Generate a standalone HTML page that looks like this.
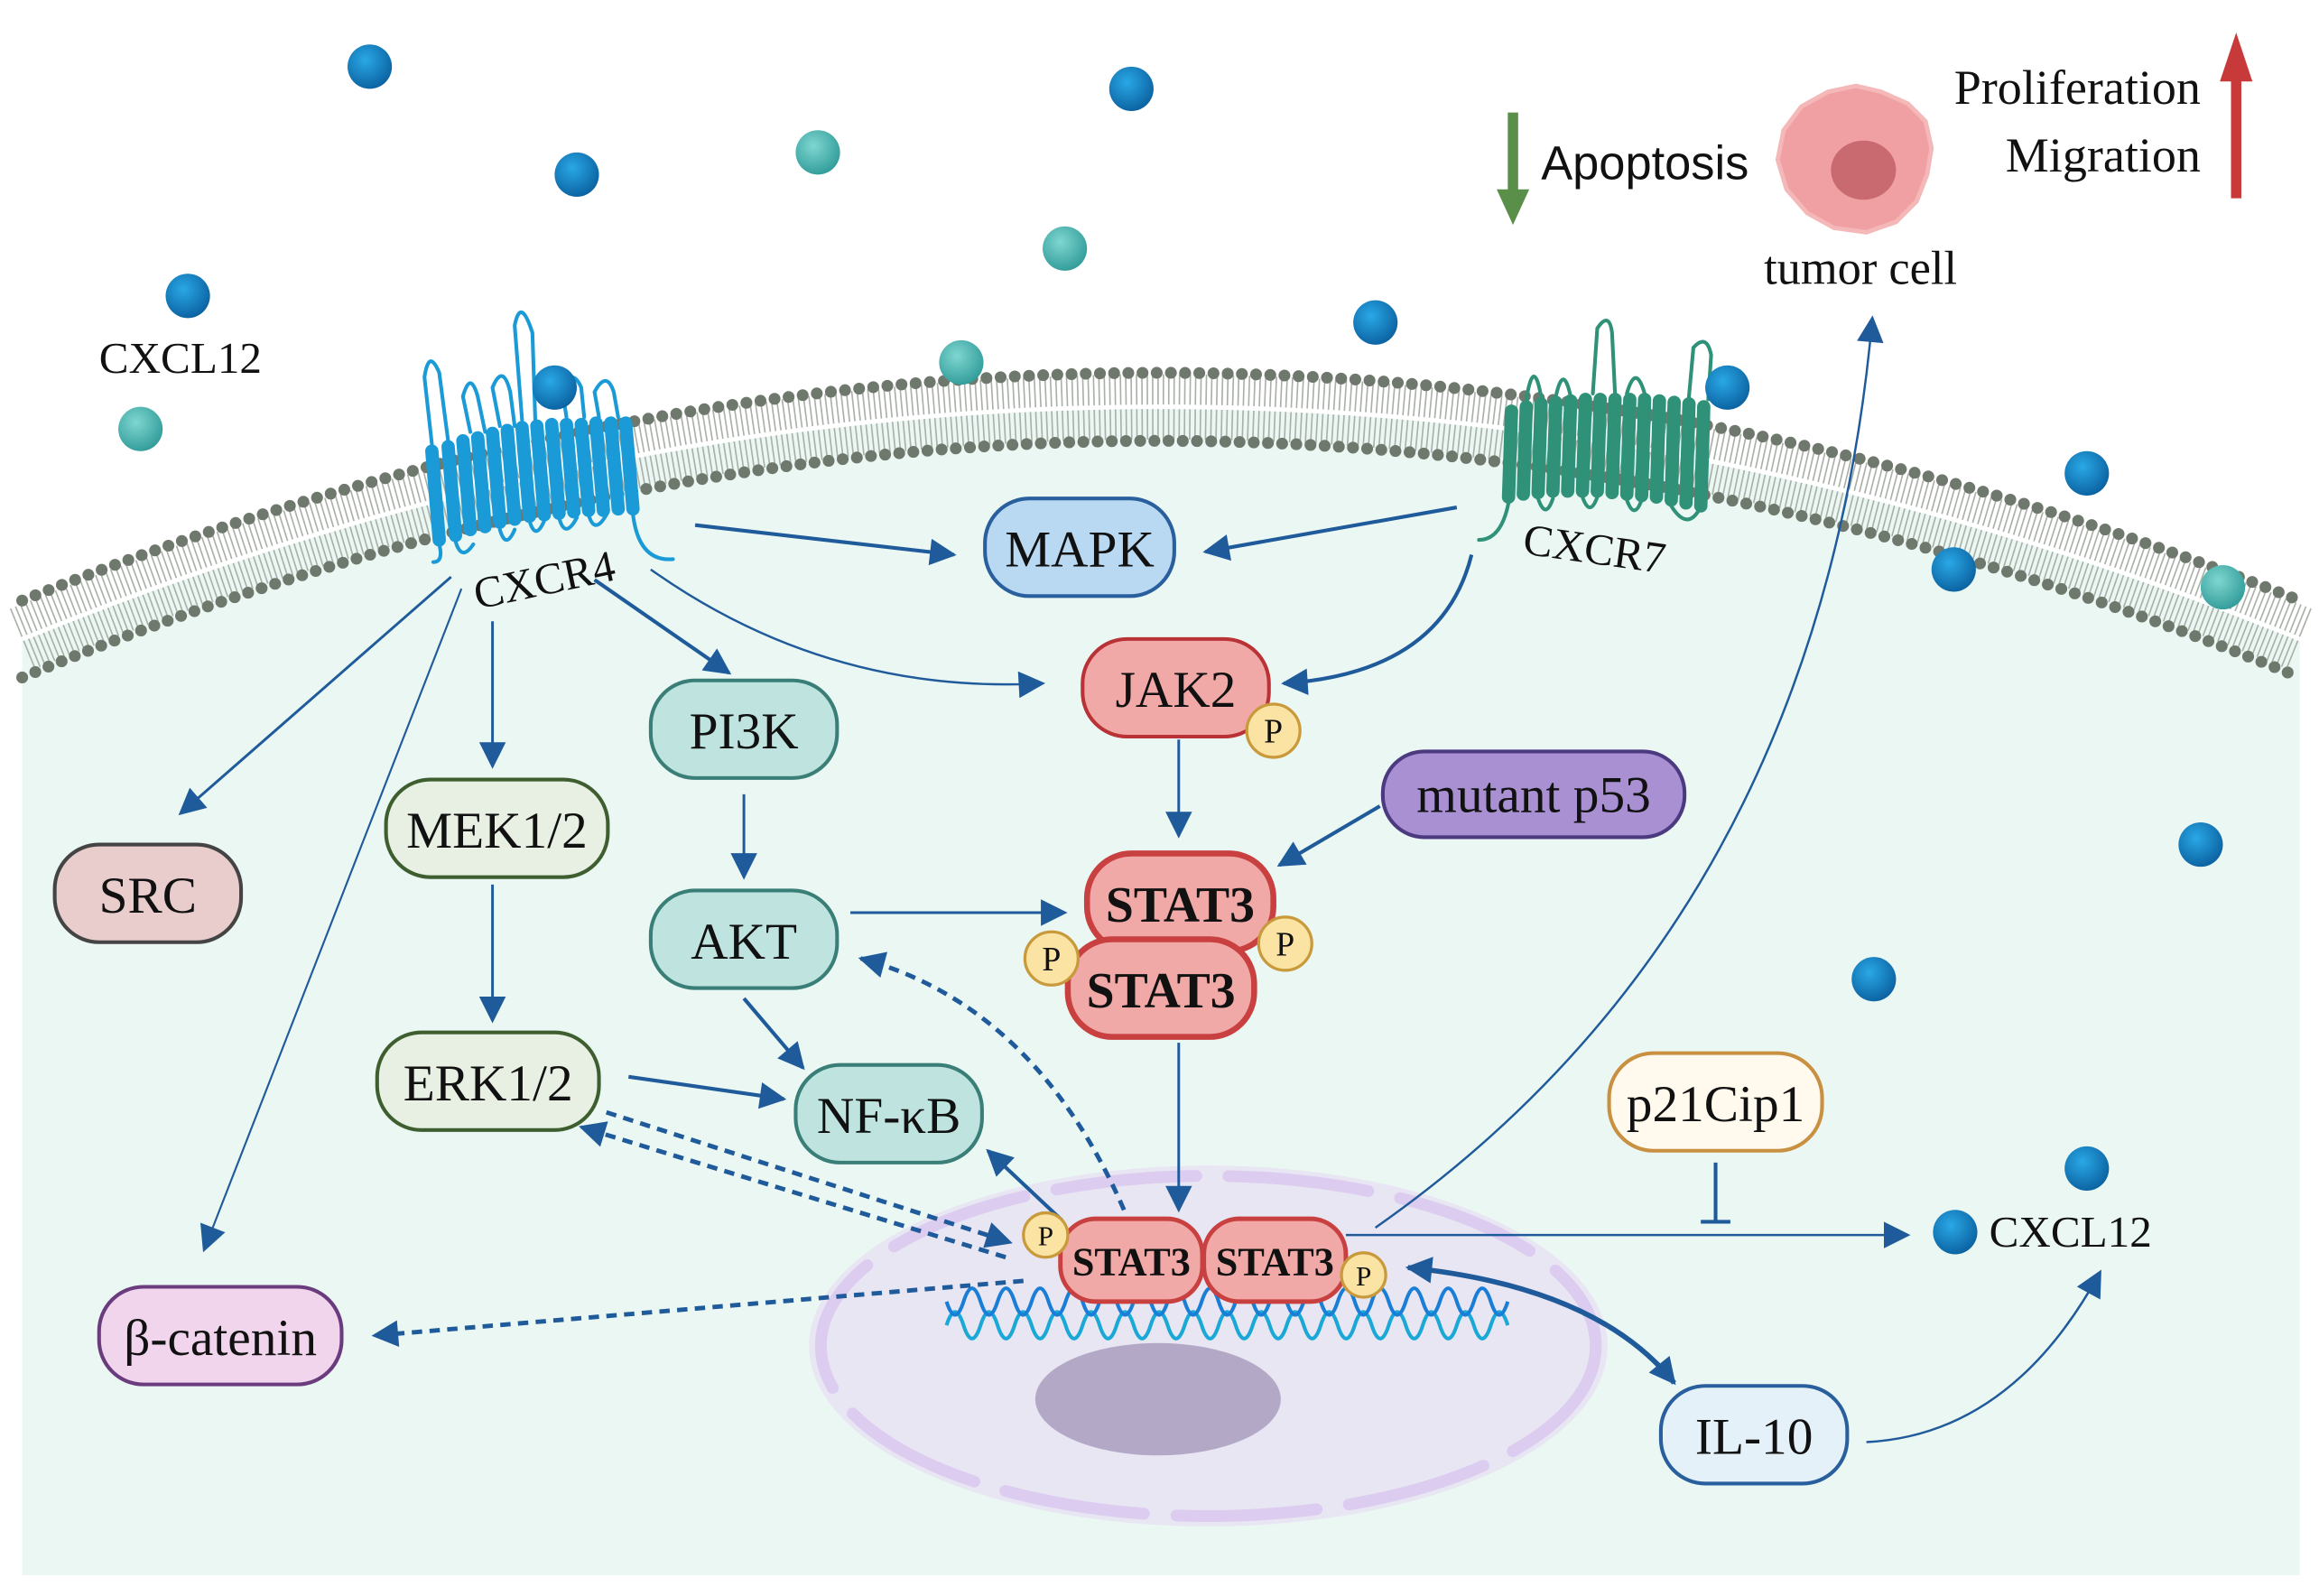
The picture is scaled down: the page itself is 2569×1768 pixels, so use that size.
<!DOCTYPE html>
<html><head><meta charset="utf-8"><style>
html,body{margin:0;padding:0;background:#fff}
svg{display:block}
text{font-family:"Liberation Serif",serif;fill:#111}
</style></head><body>
<svg width="2569" height="1768" viewBox="0 0 1568 1079" xmlns="http://www.w3.org/2000/svg">
<defs>
<marker id="ahb" viewBox="0 0 10 10" refX="9" refY="5" markerWidth="22" markerHeight="18" markerUnits="userSpaceOnUse" orient="auto-start-reverse"><path d="M0,0 L10,5 L0,10 z" fill="#1f5a9a"/></marker>
<radialGradient id="bl" cx="0.4" cy="0.35" r="0.7"><stop offset="0" stop-color="#2aa8e6"/><stop offset="1" stop-color="#0a5f9e"/></radialGradient>
<radialGradient id="tl" cx="0.4" cy="0.35" r="0.7"><stop offset="0" stop-color="#7fd6d0"/><stop offset="1" stop-color="#2f9a98"/></radialGradient>
</defs>
<path d="M15,430 Q783,120 1555,430 L1555,1065 L15,1065 Z" fill="#ebf7f3"/>
<path d="M15,432 Q783,118 1555,432" fill="none" stroke="#aab0a8" stroke-width="44" stroke-dasharray="1 2.6"/>
<path d="M15,432 Q783,118 1555,432" fill="none" stroke="#fff" stroke-width="3"/>
<path d="M15,406 Q783,98 1555,406" fill="none" stroke="#6f786c" stroke-width="8" stroke-linecap="round" stroke-dasharray="0 9.6"/>
<path d="M15,458 Q783,138 1555,458" fill="none" stroke="#6f786c" stroke-width="8" stroke-linecap="round" stroke-dasharray="0 9.6"/>
<g stroke="#1a9ad6" fill="none" stroke-linecap="round">
<g stroke-width="9"><path d="M292,305 L297,365 M303,302 L308,362 M313,298 L318,358 M323,296 L328,356 M333,293 L338,353 M343,291 L348,351 M353,289 L358,349 M363,288 L368,348 M373,287 L378,347 M383,287 L388,346 M393,287 L398,345 M403,286 L408,345 M413,286 L418,344 M423,286 L428,344"/></g>
<g stroke-width="2.5"><path d="M292,300 L287,255 Q290,235 297,252 L303,298 M318,292 L313,268 Q318,250 323,268 L328,292 M338,288 L333,262 Q340,245 345,265 L348,288 M353,284 L348,220 Q352,200 360,225 L362,286 M383,282 L380,262 Q387,248 393,262 L395,282 M405,282 L402,265 Q410,250 415,265 L418,282 M297,368 Q300,380 293,380 M308,366 Q312,380 320,368 M338,358 Q342,372 348,358 M358,352 Q362,366 368,352 M378,350 Q382,365 390,350 M398,348 Q402,362 410,348 M428,348 Q432,380 455,378"/></g>
</g>
<g stroke="#2e9178" fill="none" stroke-linecap="round">
<g stroke-width="9"><path d="M1022,278 L1020,336 M1032,275 L1030,334 M1042,273 L1040,333 M1052,272 L1050,332 M1062,271 L1060,332 M1072,270 L1070,332 M1082,270 L1080,332 M1092,270 L1090,333 M1102,270 L1100,334 M1112,270 L1110,335 M1122,271 L1120,336 M1132,272 L1130,338 M1142,273 L1140,340 M1152,275 L1150,342"/></g>
<g stroke-width="2.5"><path d="M1032,270 Q1037,240 1042,268 M1052,268 Q1057,245 1062,268 M1077,266 L1080,222 Q1088,210 1090,225 L1092,266 M1100,266 Q1106,245 1112,266 M1142,268 L1145,235 Q1154,225 1157,240 L1155,270 M1020,340 Q1015,365 1000,365 M1040,337 Q1045,352 1050,337 M1070,336 Q1075,350 1080,336 M1100,338 Q1105,352 1110,338 M1130,342 Q1140,358 1148,346"/></g>
</g>
<g fill="url(#bl)">
<circle cx="250" cy="45" r="15"/><circle cx="765" cy="60" r="15"/><circle cx="390" cy="118" r="15"/><circle cx="127" cy="200" r="15"/><circle cx="930" cy="218" r="15"/><circle cx="375" cy="262" r="15"/><circle cx="1168" cy="262" r="15"/><circle cx="1411" cy="320" r="15"/><circle cx="1321" cy="385" r="15"/><circle cx="1488" cy="571" r="15"/><circle cx="1267" cy="662" r="15"/><circle cx="1411" cy="790" r="15"/><circle cx="1322" cy="833" r="15"/>
</g>
<g fill="url(#tl)">
<circle cx="553" cy="103" r="15"/><circle cx="720" cy="168" r="15"/><circle cx="95" cy="290" r="15"/><circle cx="650" cy="245" r="15"/><circle cx="1503" cy="397" r="15"/>
</g>
<text x="122" y="252" font-size="30" text-anchor="middle">CXCL12</text>
<text x="368" y="402" font-size="30" text-anchor="middle" transform="rotate(-12 368 392)">CXCR4</text>
<text x="1078" y="381" font-size="30" text-anchor="middle" transform="rotate(8 1078 372)">CXCR7</text>
<ellipse cx="817" cy="910" rx="270" ry="122" fill="#e9e6f3"/>
<ellipse cx="817" cy="910" rx="262" ry="115" fill="none" stroke="#dccdf0" stroke-width="8" stroke-linecap="round" stroke-dasharray="95 22"/>
<ellipse cx="783" cy="946" rx="83" ry="38" fill="#b3a9c7"/>
<g fill="none" stroke-width="2.5">
<path stroke="#1aa9d6" d="M640,896 q5.75,-18 11.5,0 t11.5,0 t11.5,0 t11.5,0 t11.5,0 t11.5,0 t11.5,0 t11.5,0 t11.5,0 t11.5,0 t11.5,0 t11.5,0 t11.5,0 t11.5,0 t11.5,0 t11.5,0 t11.5,0 t11.5,0 t11.5,0 t11.5,0 t11.5,0 t11.5,0 t11.5,0 t11.5,0 t11.5,0 t11.5,0 t11.5,0 t11.5,0 t11.5,0 t11.5,0 t11.5,0 t11.5,0 t11.5,0"/>
<path stroke="#1a7ed6" d="M640,880 q5.75,18 11.5,0 t11.5,0 t11.5,0 t11.5,0 t11.5,0 t11.5,0 t11.5,0 t11.5,0 t11.5,0 t11.5,0 t11.5,0 t11.5,0 t11.5,0 t11.5,0 t11.5,0 t11.5,0 t11.5,0 t11.5,0 t11.5,0 t11.5,0 t11.5,0 t11.5,0 t11.5,0 t11.5,0 t11.5,0 t11.5,0 t11.5,0 t11.5,0 t11.5,0 t11.5,0 t11.5,0 t11.5,0 t11.5,0"/>
</g>
<g fill="none" stroke="#1f5a9a" stroke-width="2.5">
<path d="M470,355 L645,375" marker-end="url(#ahb)"/>
<path d="M985,343 L815,373" marker-end="url(#ahb)"/>
<path d="M440,385 Q560,470 705,462" stroke-width="1.5" marker-end="url(#ahb)"/>
<path d="M995,375 Q975,455 868,462" marker-end="url(#ahb)"/>
<path d="M402,392 L493,455" marker-end="url(#ahb)"/>
<path d="M333,420 L333,518" stroke-width="1.8" marker-end="url(#ahb)"/>
<path d="M305,390 L122,550" stroke-width="1.8" marker-end="url(#ahb)"/>
<path d="M312,398 L138,845" stroke-width="1.3" marker-end="url(#ahb)"/>
<path d="M333,598 L333,690" stroke-width="1.8" marker-end="url(#ahb)"/>
<path d="M503,537 L503,593" stroke-width="1.8" marker-end="url(#ahb)"/>
<path d="M797,500 L797,565" stroke-width="1.8" marker-end="url(#ahb)"/>
<path d="M933,545 L865,585" marker-end="url(#ahb)"/>
<path d="M575,617 L720,617" stroke-width="1.8" marker-end="url(#ahb)"/>
<path d="M503,675 L543,722" marker-end="url(#ahb)"/>
<path d="M425,728 L530,743" marker-end="url(#ahb)"/>
<path d="M797,705 L797,818" stroke-width="1.8" marker-end="url(#ahb)"/>
<path d="M718,825 L668,778" marker-end="url(#ahb)"/>
<path d="M760,818 Q700,680 582,648" stroke-width="3" stroke-dasharray="7 5" marker-end="url(#ahb)"/>
<path d="M410,752 L683,840" stroke-width="3" stroke-dasharray="7 5" marker-end="url(#ahb)"/>
<path d="M680,850 L393,762" stroke-width="3" stroke-dasharray="7 5" marker-end="url(#ahb)"/>
<path d="M692,866 L253,903" stroke-width="3" stroke-dasharray="7 5" marker-end="url(#ahb)"/>
<path d="M910,835 L1290,835" stroke-width="1.5" marker-end="url(#ahb)"/>
<path d="M1160,786 L1160,826 M1150,826 L1170,826"/>
<path d="M930,830 Q1230,620 1266,215" stroke-width="1.5" marker-end="url(#ahb)"/>
<path d="M952,857 Q1080,870 1132,935" stroke-width="3.5" marker-start="url(#ahb)" marker-end="url(#ahb)"/>
<path d="M1262,975 Q1360,970 1420,860" stroke-width="1.5" marker-end="url(#ahb)"/>
</g>
<g font-size="35" text-anchor="middle">
<rect x="666" y="337" width="128" height="66" rx="30" fill="#b9d9f3" stroke="#2a5f9e" stroke-width="2.5"/><text x="730" y="383">MAPK</text>
<rect x="732" y="432" width="126" height="66" rx="30" fill="#f1a9a7" stroke="#b83236" stroke-width="2.5"/><text x="795" y="478">JAK2</text>
<rect x="440" y="460" width="126" height="66" rx="30" fill="#bfe4df" stroke="#3a7e78" stroke-width="2.5"/><text x="503" y="506">PI3K</text>
<rect x="261" y="527" width="150" height="66" rx="30" fill="#e7f0e2" stroke="#3e5e30" stroke-width="2.5"/><text x="336" y="573">MEK1/2</text>
<rect x="37" y="571" width="126" height="66" rx="30" fill="#e9cdcd" stroke="#444" stroke-width="2.5"/><text x="100" y="617">SRC</text>
<rect x="935" y="508" width="204" height="58" rx="28" fill="#a890d2" stroke="#4b3a80" stroke-width="2.5"/><text x="1037" y="549">mutant p53</text>
<rect x="440" y="602" width="126" height="66" rx="30" fill="#bfe4df" stroke="#3a7e78" stroke-width="2.5"/><text x="503" y="648">AKT</text>
<rect x="255" y="698" width="150" height="66" rx="30" fill="#e7f0e2" stroke="#3e5e30" stroke-width="2.5"/><text x="330" y="744">ERK1/2</text>
<rect x="538" y="720" width="126" height="66" rx="30" fill="#bfe4df" stroke="#3a7e78" stroke-width="2.5"/><text x="601" y="766">NF-κB</text>
<rect x="1088" y="712" width="144" height="66" rx="30" fill="#fff9ee" stroke="#c89040" stroke-width="2.5"/><text x="1160" y="758">p21Cip1</text>
<rect x="67" y="870" width="164" height="66" rx="30" fill="#f1d5ed" stroke="#6a3c7e" stroke-width="2.5"/><text x="149" y="916">β-catenin</text>
<rect x="1123" y="937" width="126" height="66" rx="30" fill="#e5f1f9" stroke="#2a5f9e" stroke-width="2.5"/><text x="1186" y="983">IL-10</text>
</g>
<g font-size="34" font-weight="bold" text-anchor="middle">
<rect x="735" y="577" width="126" height="66" rx="30" fill="#f1a9a7" stroke="#c84040" stroke-width="4"/><text x="798" y="623">STAT3</text>
<rect x="722" y="635" width="126" height="66" rx="30" fill="#f1a9a7" stroke="#c84040" stroke-width="4"/><text x="785" y="681">STAT3</text>
</g>
<g font-size="27" font-weight="bold" text-anchor="middle">
<rect x="717" y="824" width="96" height="56" rx="24" fill="#f1a9a7" stroke="#c84040" stroke-width="3"/><text x="765" y="862">STAT3</text>
<rect x="814" y="824" width="96" height="56" rx="24" fill="#f1a9a7" stroke="#c84040" stroke-width="3"/><text x="862" y="862">STAT3</text>
</g>
<g fill="#fbe3a3" stroke="#c89a3c" stroke-width="2">
<circle cx="861" cy="494" r="18"/><circle cx="711" cy="648" r="18"/><circle cx="869" cy="638" r="18"/><circle cx="707" cy="835" r="15"/><circle cx="922" cy="862" r="15"/>
</g>
<g font-size="23" text-anchor="middle">
<text x="861" y="502">P</text><text x="711" y="656">P</text><text x="869" y="646">P</text><text x="707" y="842" font-size="19">P</text><text x="922" y="869" font-size="19">P</text>
</g>
<path d="M1255,58 L1272,62 L1290,70 L1302,82 L1306,100 L1303,118 L1296,136 L1282,150 L1262,157 L1240,154 L1222,144 L1208,128 L1202,108 L1206,88 L1218,72 L1236,62 Z" fill="#f0a0a2" stroke="#f4b8b8" stroke-width="3"/>
<ellipse cx="1260" cy="115" rx="22" ry="20" fill="#c96a70"/>
<text x="1258" y="192" font-size="32" text-anchor="middle">tumor cell</text>
<path d="M1023,76 L1023,132" stroke="#5a8f4a" stroke-width="7"/><path d="M1012,128 L1034,128 L1023,152 Z" fill="#5a8f4a"/>
<text x="1042" y="121" font-size="32" style="font-family:'Liberation Sans',sans-serif">Apoptosis</text>
<path d="M1512,134 L1512,50" stroke="#c83a3a" stroke-width="7"/><path d="M1501,55 L1523,55 L1512,22 Z" fill="#c83a3a"/>
<text x="1488" y="70" font-size="33" text-anchor="end">Proliferation</text>
<text x="1488" y="116" font-size="33" text-anchor="end">Migration</text>
<text x="1345" y="843" font-size="30">CXCL12</text>
</svg>
</body></html>
